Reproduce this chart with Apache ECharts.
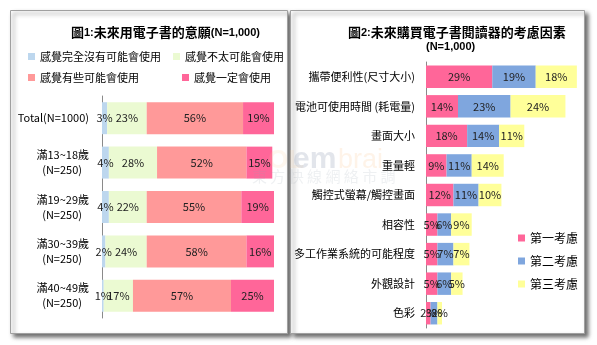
<!DOCTYPE html>
<html><head><meta charset="utf-8">
<script src="https://cdn.jsdelivr.net/npm/echarts@6/dist/echarts.min.js"></script>
<style>html,body{margin:0;padding:0;background:#fff}#c{width:597px;height:345px}</style>
</head><body><div id="c"></div>
<script>
// Chart 1 data
const ageCats = ['Total(N=1000)', '滿13~18歲\n(N=250)', '滿19~29歲\n(N=250)', '滿30~39歲\n(N=250)', '滿40~49歲\n(N=250)'];
const intentNames = ['感覺完全沒有可能會使用', '感覺不太可能會使用', '感覺有些可能會使用', '感覺一定會使用'];
const intentNone = [3, 4, 4, 2, 1];
const intentUnlikely = [23, 28, 22, 24, 17];
const intentSomewhat = [56, 52, 55, 58, 57];
const intentSure = [19, 15, 19, 16, 25];

// Chart 2 data
const factorCats = ['攜帶便利性(尺寸大小)', '電池可使用時間 (耗電量)', '畫面大小', '重量輕', '觸控式螢幕/觸控畫面', '相容性', '多工作業系統的可能程度', '外觀設計', '色彩'];
const rankNames = ['第一考慮', '第二考慮', '第三考慮'];
const rank1 = [29, 14, 18, 9, 12, 5, 5, 5, 2];
const rank2 = [19, 23, 14, 11, 11, 6, 7, 6, 3];
const rank3 = [18, 24, 11, 14, 10, 9, 7, 5, 2];

const FONT = '"Noto Sans CJK TC", "Noto Sans", sans-serif';
const leftColors = ['#BDD7EE', '#EBFAD2', '#FF9999', '#FF6699'];
const rightColors = ['#FF6699', '#7FA6DE', '#FFFF99'];

const chart = echarts.init(document.getElementById('c'), null, {renderer: 'canvas'});

const lbl = {show: true, position: 'inside', formatter: '{c}%', fontSize: 11, color: '#222', fontFamily: FONT};

function mkSeries(names, arrs, colors, xi, stack) {
  return arrs.map((d, i) => ({
    name: names[i], type: 'bar', stack: stack, xAxisIndex: xi, yAxisIndex: xi,
    data: d, itemStyle: {color: colors[i]}, label: lbl,
    barCategoryGap: xi === 0 ? '28%' : '24%', emphasis: {disabled: true}
  }));
}

const titleRich = {
  a: {fontSize: 13, fontWeight: 'bold', fontFamily: FONT, color: '#000'},
  b: {fontSize: 11, fontWeight: 'bold', fontFamily: 'Liberation Sans, Arial, sans-serif', color: '#000'}
};

const option = {
  animation: false,
  backgroundColor: '#fff',
  textStyle: {fontFamily: FONT},
  title: [
    {left: 66, top: 21, text: '{a|圖}{b|1:}{a|未來用電子書的意願}{b|(N=1,000)}', textStyle: {rich: titleRich}},
    {left: 343, top: 21, text: '{a|圖}{b|2:}{a|未來購買電子書閱讀器的考慮因素}', textStyle: {rich: titleRich}},
    {left: 421, top: 36, text: '{b|(N=1,000)}', textStyle: {rich: titleRich}}
  ],
  legend: [
    {left: 23, top: 46, data: intentNames.slice(0, 2), itemWidth: 7, itemHeight: 7, itemGap: 12, icon: 'rect',
     textStyle: {fontSize: 11, color: '#000', fontFamily: FONT}, selectedMode: false},
    {left: 23, top: 67, data: intentNames.slice(2, 4), itemWidth: 7, itemHeight: 7, itemGap: 43, icon: 'rect',
     textStyle: {fontSize: 11, color: '#000', fontFamily: FONT}, selectedMode: false},
    {left: 513, top: 227, orient: 'vertical', data: rankNames, itemWidth: 7, itemHeight: 7, itemGap: 11, icon: 'rect',
     textStyle: {fontSize: 12, color: '#000', fontFamily: FONT}, selectedMode: false}
  ],
  grid: [
    {left: 102, right: 323, top: 96, bottom: 27},
    {left: 426, right: 11, top: 62, bottom: 17}
  ],
  xAxis: [
    {gridIndex: 0, type: 'value', min: 0, max: 100, show: false},
    {gridIndex: 1, type: 'value', min: 0, max: 70, show: false}
  ],
  yAxis: [
    {gridIndex: 0, type: 'category', data: ageCats, inverse: true,
     axisLine: {lineStyle: {color: '#8a8a8a'}}, axisTick: {length: 4, lineStyle: {color: '#8a8a8a'}},
     axisLabel: {margin: 13, fontSize: 11, color: '#000', fontFamily: FONT,
       formatter: v => {
         const p = v.split('\n');
         return p.length > 1 ? '{a|' + p[0] + '}\n{b|' + p[1] + '}' : '{a|' + v + '}';
       },
       rich: {a: {fontSize: 11, lineHeight: 15, fontFamily: FONT, color: '#000'},
              b: {fontSize: 11, lineHeight: 15, fontFamily: FONT, color: '#000', padding: [0, 7, 0, 0]}}}},
    {gridIndex: 1, type: 'category', data: factorCats, inverse: true,
     axisLine: {lineStyle: {color: '#8a8a8a'}}, axisTick: {length: 4, lineStyle: {color: '#8a8a8a'}},
     axisLabel: {margin: 11, fontSize: 11, color: '#000', fontFamily: FONT}}
  ],
  series: [
    ...mkSeries(intentNames, [intentNone, intentUnlikely, intentSomewhat, intentSure], leftColors, 0, 'age'),
    ...mkSeries(rankNames, [rank1, rank2, rank3], rightColors, 1, 'rank')
  ],
  graphic: [
    {type: 'rect', z: -10, shape: {x: 10.5, y: 10.5, width: 277, height: 323},
     style: {fill: '#fff', stroke: '#a0a0a0', lineWidth: 1, shadowBlur: 4, shadowOffsetX: 3, shadowOffsetY: 3, shadowColor: 'rgba(0,0,0,0.55)'}},
    {type: 'rect', z: -10, shape: {x: 290.5, y: 10.5, width: 294, height: 323},
     style: {fill: '#fff', stroke: '#a0a0a0', lineWidth: 1, shadowBlur: 4, shadowOffsetX: 3, shadowOffsetY: 3, shadowColor: 'rgba(0,0,0,0.55)'}},
    {type: 'text', z: 100, left: 268, top: 148, silent: true,
     style: {text: 'OL', fontSize: 26, fontWeight: 'bold', fontFamily: 'Liberation Sans, sans-serif', fill: 'rgba(250,200,150,0.15)'}},
    {type: 'text', z: 100, left: 293, top: 145, silent: true,
     style: {text: 'em', fontSize: 30, fontWeight: 'bold', fontFamily: 'Liberation Sans, sans-serif', fill: 'rgba(160,170,190,0.3)'}},
    {type: 'text', z: 100, left: 338, top: 147, silent: true,
     style: {text: 'brai', fontSize: 27, fontFamily: 'Liberation Sans, sans-serif', fill: 'rgba(250,190,130,0.18)'}},
    {type: 'text', z: 100, left: 252, top: 169, silent: true,
     style: {text: '東 方 快 線 網 絡 市 調', fontSize: 15, fontFamily: FONT, fill: 'rgba(150,160,175,0.16)'}}
  ]
};
chart.setOption(option);
</script></body></html>
